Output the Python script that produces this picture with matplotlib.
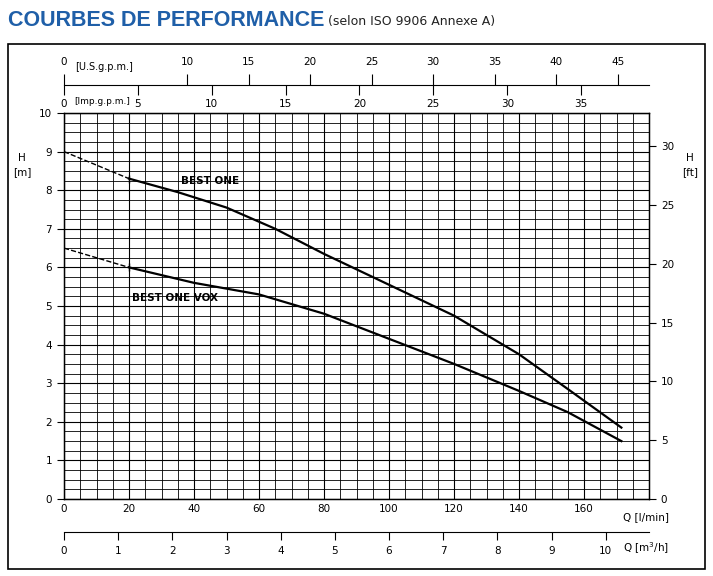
import matplotlib
matplotlib.use("Agg")
import matplotlib.pyplot as plt
import numpy as np

q1_dash = [0, 20]; h1_dash = [9.0, 8.3]
q1 = [20, 35, 50, 65, 80, 100, 120, 140, 155, 171.5]
h1 = [8.3, 7.95, 7.55, 7.0, 6.35, 5.55, 4.75, 3.75, 2.85, 1.85]
q2_dash = [0, 20]; h2_dash = [6.5, 6.0]
q2 = [20, 40, 60, 80, 100, 120, 140, 155, 171.5]
h2 = [6.0, 5.6, 5.3, 4.8, 4.15, 3.5, 2.8, 2.25, 1.5]
labels = ["BEST ONE", "BEST ONE VOX"]

W, H = 713, 576
fig = plt.figure(figsize=(W/100, H/100), dpi=100)
plt.rcParams['font.family'] = ['DejaVu Sans']
fs = 7.5

def rect(l, t, r, b):
    return [l/W, 1-b/H, (r-l)/W, (b-t)/H]

fig.add_artist(plt.Rectangle((8/W, 1-569/H), 697/W, 525/H, transform=fig.transFigure,
                             fill=False, lw=1.2, ec='black'))
fig.text(8/W, 1-20/H, "COURBES DE PERFORMANCE", fontsize=15.5, fontweight='bold',
         color='#1f5fa8', va='center', family='Liberation Sans')
fig.text(328/W, 1-22/H, "(selon ISO 9906 Annexe A)", fontsize=9, color='#222', va='center')

ax = fig.add_axes(rect(64, 113, 649, 499))
ax.set_xlim(0, 180); ax.set_ylim(0, 10)
ax.set_xticks(np.arange(0, 181, 5), minor=True)
ax.set_yticks(np.arange(0, 10.01, 0.25), minor=True)
ax.grid(which='minor', color='black', lw=0.6)
ax.grid(which='major', color='black', lw=0.8)
ax.set_xticks(np.arange(0, 161, 20))
ax.set_yticks(np.arange(0, 11, 1))
ax.tick_params(which='minor', length=0)
ax.tick_params(labelsize=fs, length=5, width=0.8)
ax.tick_params(axis='x', length=0)
for s in ax.spines.values(): s.set_linewidth(1.0)
ax.plot(q1_dash, h1_dash, 'k--', lw=1)
ax.plot(q1, h1, 'k-', lw=1.6)
ax.plot(q2_dash, h2_dash, 'k--', lw=1)
ax.plot(q2, h2, 'k-', lw=1.6)
ax.plot([20, 20], [8.3, 6.0], 'k|', ms=6)
ax.text(36, 8.25, labels[0], fontsize=7.5, fontweight='bold', ha='left', va='center')
ax.text(21, 5.2, labels[1], fontsize=7.5, fontweight='bold', ha='left', va='center')
fig.text(623/W, 1-517/H, "Q [l/min]", fontsize=fs, ha='left', va='center')

axr = ax.twinx()
axr.set_ylim(0, 10*3.2808)
axr.set_yticks(np.arange(0, 31, 5))
axr.tick_params(labelsize=fs, length=5)
fig.text(22/W, 1-165/H, "H\n[m]", fontsize=fs, ha='center', va='center', linespacing=1.6)
fig.text(690/W, 1-165/H, "H\n[ft]", fontsize=fs, ha='center', va='center', linespacing=1.6)

# top US gpm axis
a1 = fig.add_axes([64/W, 1-85/H, 585/W, 0.0001])
a1.set_xlim(0, 180/3.7854); a1.set_yticks([]); a1.patch.set_visible(False)
for s in ['left', 'right', 'bottom']: a1.spines[s].set_visible(False)
a1.xaxis.set_ticks_position('top')
a1.set_xticks([0, 10, 15, 20, 25, 30, 35, 40, 45])
a1.tick_params(labelsize=fs, length=8, direction='out', pad=5)
fig.text(75/W, 1-67/H, "[U.S.g.p.m.]", fontsize=7, ha='left', va='center')

# Imp gpm axis
a2 = fig.add_axes([64/W, 1-85/H, 585/W, 0.0001])
a2.set_xlim(0, 180/4.546); a2.set_yticks([]); a2.patch.set_visible(False)
for s in a2.spines.values(): s.set_visible(False)
a2.set_xticks([0, 5, 10, 15, 20, 25, 30, 35])
a2.tick_params(labelsize=fs, length=7, direction='out', pad=3)
fig.text(74/W, 1-101/H, "[Imp.g.p.m.]", fontsize=6.5, ha='left', va='center')

# bottom m3/h axis
a3 = fig.add_axes([64/W, 1-532/H, 585/W, 0.0001])
a3.set_xlim(0, 10.8); a3.set_yticks([]); a3.patch.set_visible(False)
for s in ['left', 'right', 'bottom']: a3.spines[s].set_visible(False)
a3.xaxis.set_ticks_position('top')
a3.set_xticks(range(0, 11))
a3.tick_params(length=6, direction='in', labeltop=False, labelbottom=True, bottom=False, pad=10, labelsize=fs)
fig.text(623/W, 1-548/H, "Q [m$^3$/h]", fontsize=fs, ha='left', va='center')

fig.savefig("out.png", dpi=100)
